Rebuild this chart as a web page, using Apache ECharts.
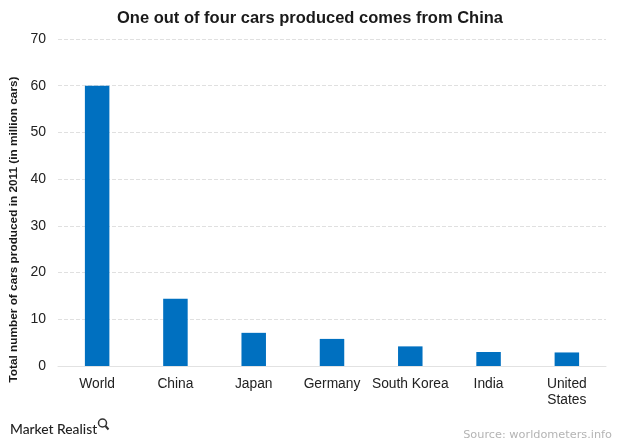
<!DOCTYPE html>
<html>
<head>
<meta charset="utf-8">
<style>
  html, body { margin: 0; padding: 0; background: #fff; }
  #chart { width: 620px; height: 444px; }
</style>
<script src="https://cdn.jsdelivr.net/npm/echarts@6/dist/echarts.min.js"></script>
</head>
<body>
<div id="chart"></div>
<script>
var countries = ['World', 'China', 'Japan', 'Germany', 'South Korea', 'India', 'United\nStates']
var carsProduced = [60, 14.4, 7.1, 5.8, 4.2, 3.0, 2.9]

var chart = echarts.init(document.getElementById('chart'))
var font = 'Liberation Sans'

chart.setOption({
  animation: false,
  title: [
    {
      text: 'One out of four cars produced comes from China',
      left: 310, top: 10, padding: 0, textAlign: 'center',
      textStyle: { fontFamily: font, fontSize: 16.5, fontWeight: 'bold', color: '#1a1a1a' }
    },
    {
      text: 'Market Realist',
      left: 10, top: 423, padding: 0,
      textStyle: { fontFamily: 'Lato', fontSize: 13.8, fontWeight: 500, color: '#222' }
    },
    {
      text: 'Source: worldometers.info',
      right: 8, top: 430, padding: 0,
      textStyle: { fontFamily: 'DejaVu Sans', fontSize: 11.3, fontWeight: 'normal', color: '#b4b4b4' }
    }
  ],
  // magnifier next to the logo text
  graphic: [
    { type: 'circle', shape: { cx: 102.5, cy: 423, r: 4 }, style: { fill: 'none', stroke: '#333', lineWidth: 1.5 } },
    { type: 'line', shape: { x1: 105.5, y1: 426, x2: 108.5, y2: 429.5 }, style: { stroke: '#333', lineWidth: 2 } }
  ],
  grid: { left: 58, right: 14, top: 39, bottom: 78, outerBoundsMode: 'none' },
  xAxis: {
    type: 'category',
    data: countries,
    axisTick: { show: false },
    axisLine: { lineStyle: { color: '#e2e2e2', width: 1 } },
    axisLabel: { fontFamily: font, fontSize: 13.8, color: '#222', margin: 10, lineHeight: 16, interval: 0 }
  },
  yAxis: {
    type: 'value',
    min: 0,
    max: 70,
    interval: 10,
    name: 'Total number of cars produced in 2011 (in million cars)',
    nameLocation: 'middle',
    nameGap: 37,
    nameTextStyle: { fontFamily: font, fontSize: 11.8, fontWeight: 'bold', color: '#1a1a1a', padding: [0, 54, 0, 0] },
    axisLine: { show: false },
    axisTick: { show: false },
    axisLabel: { fontFamily: font, fontSize: 14, color: '#222', margin: 12 },
    splitLine: { lineStyle: { color: '#e0e0e0', type: 'dashed', width: 1 } }
  },
  series: [
    {
      type: 'bar',
      data: carsProduced,
      barWidth: 24.5,
      itemStyle: { color: '#0070c0' }
    }
  ]
})
</script>
</body>
</html>
